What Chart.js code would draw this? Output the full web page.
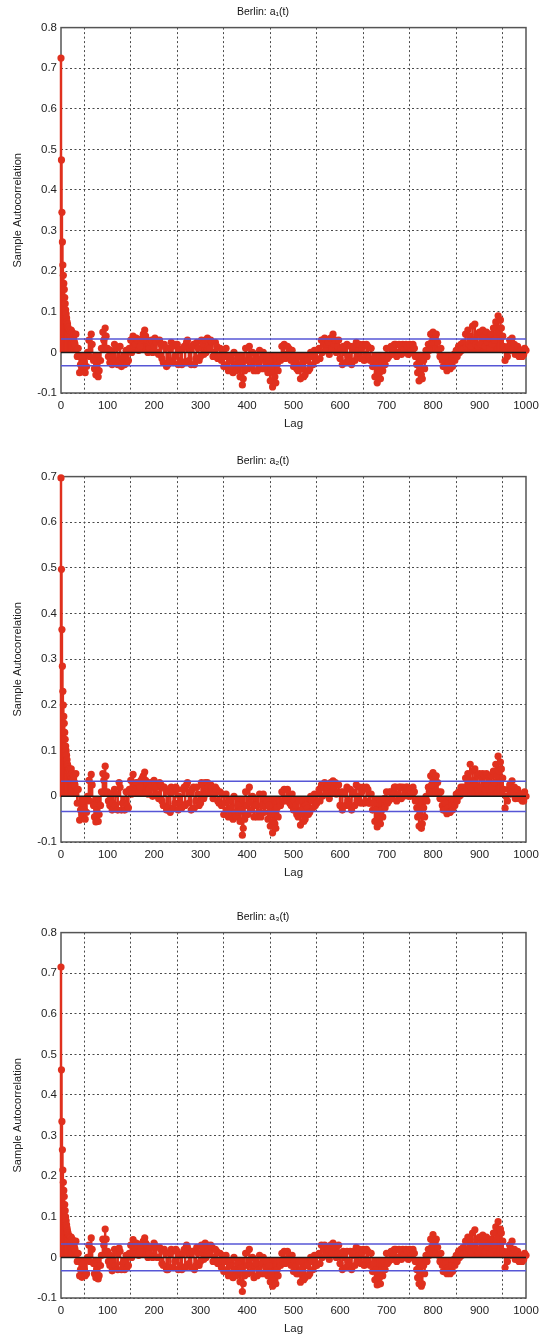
<!DOCTYPE html>
<html>
<head>
<meta charset="utf-8">
<title>Berlin sample autocorrelation</title>
<script src="https://cdn.jsdelivr.net/npm/chart.js@4.4.1/dist/chart.umd.min.js"></script>
<style>
  body { margin: 0; background: #fff; }
  .panel { position: absolute; left: 0; width: 546px; height: 435px; }
</style>
</head>
<body>
<div class="panel" style="top:0px"><canvas id="acf-a1"></canvas></div>
<div class="panel" style="top:449px"><canvas id="acf-a2"></canvas></div>
<div class="panel" style="top:905px"><canvas id="acf-a3"></canvas></div>
<script>
// lags: every lag up to 29, then lags 30,35,.. and 32,37,..
const headLags = Array.from({ length: 30 }, (_, i) => i);
const tailLags = [];
for (let lag = 30; lag <= 1000; lag += 5) tailLags.push(lag);
const midLags = [];
for (let lag = 32; lag <= 997; lag += 5) midLags.push(lag);

// a1(t)
const a1Head = [0.725, 0.474, 0.345, 0.272, 0.215, 0.19, 0.17, 0.155, 0.135, 0.12,
  0.105, 0.095, 0.085, 0.075, 0.07, 0.062, 0.058, 0.05, 0.055, 0.045,
  0.05, 0.04, 0.055, 0.045, 0.05, 0.035, 0.04, 0.03, 0.045, 0.025];
const a1Tail = [
  0.02, -0.01, -0.05, -0.04, -0.025, -0.035, 0.03, 0.045, -0.02, -0.055,
  -0.06, -0.02, 0.05, 0.06, 0.01, -0.025, -0.03, 0.02, 0.01, -0.02,
  -0.035, -0.01, 0.005, -0.02, 0.03, 0.04, 0.02, 0.03, 0.015, 0.035,
  0.055, 0.03, 0.01, 0.03, 0.015, 0.025, -0.005, 0.02, -0.025, 0.01,
  -0.03, -0.02, 0.015, -0.01, 0.02, 0.005, -0.03, 0.015, 0.025, -0.02,
  -0.03, 0.02, -0.015, 0.01, -0.01, 0.02, 0.03, 0.035, 0.01, 0.025,
  0.0, 0.015, -0.01, -0.02, -0.035, 0.01, -0.045, -0.02, -0.05, -0.03,
  -0.015, -0.06, -0.08, -0.045, -0.02, 0.015, -0.035, -0.045, -0.015, -0.03,
  -0.04, 0.0, -0.025, -0.05, -0.07, -0.085, -0.06, -0.03, -0.01, 0.015,
  0.02, -0.005, 0.01, -0.02, -0.035, -0.02, -0.045, -0.065, -0.04, -0.055,
  -0.02, -0.04, -0.01, 0.005, -0.02, 0.01, 0.03, 0.02, 0.005, 0.025,
  0.035, 0.045, 0.03, 0.015, -0.015, -0.03, 0.0, 0.02, -0.02, -0.03,
  0.015, 0.025, 0.005, -0.015, 0.02, -0.005, 0.015, -0.02, -0.035, -0.06,
  -0.075, -0.05, -0.03, -0.01, 0.01, -0.01, 0.015, 0.005, 0.02, 0.0,
  0.015, 0.02, 0.01, 0.015, 0.02, 0.005, 0.01, -0.03, -0.07, -0.055,
  -0.02, 0.005, 0.02, 0.045, 0.05, 0.035, 0.025, -0.01, -0.02, -0.035,
  -0.045, -0.03, -0.02, -0.005, 0.005, 0.015, 0.02, 0.025, 0.045, 0.055,
  0.04, 0.065, 0.07, 0.045, 0.05, 0.035, 0.04, 0.05, 0.035, 0.045,
  0.06, 0.075, 0.09, 0.08, 0.04, -0.02, -0.01, 0.03, 0.035, 0.02,
  0.01, -0.01, 0.005, -0.005, 0.005];
const a1Mid = [
  0.045, 0.01, -0.03, -0.01, -0.05, 0.0, -0.01, 0.02, -0.04, -0.03,
  -0.045, 0.01, 0.03, 0.04, -0.01, 0.005, -0.01, -0.02, -0.03, 0.015,
  -0.015, -0.03, -0.025, 0.01, 0.0, 0.015, 0.035, 0.005, 0.03, 0.045,
  0.04, 0.0, 0.025, 0.0, 0.035, 0.0, 0.03, -0.015, 0.02, -0.035,
  0.01, 0.025, -0.025, 0.02, -0.03, -0.02, 0.01, -0.025, 0.03, 0.01,
  0.015, -0.03, 0.025, -0.02, 0.03, -0.005, 0.0, 0.015, 0.03, -0.01,
  0.025, -0.015, 0.01, 0.005, -0.01, -0.03, -0.01, -0.04, 0.0, -0.045,
  -0.035, -0.025, -0.065, 0.01, -0.04, -0.02, 0.0, -0.02, -0.045, 0.005,
  -0.015, -0.04, -0.01, -0.02, -0.04, -0.05, -0.075, -0.045, -0.02, -0.01,
  -0.015, 0.015, -0.015, 0.005, -0.01, -0.04, -0.01, -0.03, -0.06, -0.02,
  -0.045, 0.0, -0.03, -0.02, 0.005, -0.015, 0.0, 0.035, 0.02, -0.005,
  0.01, 0.02, 0.0, 0.03, 0.01, 0.015, -0.025, -0.01, 0.015, 0.005,
  -0.02, -0.01, 0.02, 0.01, -0.02, 0.02, -0.015, 0.01, -0.015, -0.03,
  -0.04, -0.065, -0.045, -0.03, -0.015, 0.01, -0.005, 0.02, -0.01, 0.02,
  -0.005, 0.0, 0.02, -0.005, 0.0, 0.02, -0.01, -0.05, -0.04, -0.065,
  -0.04, -0.01, 0.005, 0.025, 0.03, 0.045, 0.005, 0.01, -0.035, -0.015,
  -0.025, -0.04, -0.035, -0.02, -0.01, 0.0, 0.005, 0.01, 0.015, 0.02,
  0.015, 0.03, 0.02, 0.015, 0.02, 0.055, 0.015, 0.025, 0.01, 0.02,
  0.03, 0.045, 0.05, 0.06, 0.015, 0.005, 0.015, 0.005, 0.01, -0.005,
  0.015, 0.005, -0.01, 0.01];

// a2(t)
const a2Head = [0.697, 0.497, 0.365, 0.285, 0.23, 0.2, 0.175, 0.16, 0.14, 0.125,
  0.11, 0.1, 0.09, 0.08, 0.07, 0.065, 0.06, 0.055, 0.06, 0.05,
  0.055, 0.045, 0.06, 0.05, 0.05, 0.04, 0.045, 0.035, 0.045, 0.03];
const a2Tail = [
  0.025, -0.015, -0.052, -0.04, -0.03, -0.035, 0.035, 0.048, -0.02, -0.056,
  -0.055, -0.02, 0.05, 0.066, 0.01, -0.02, -0.03, 0.015, 0.005, 0.03,
  -0.03, -0.015, 0.01, -0.025, 0.035, 0.048, 0.025, 0.03, 0.02, 0.04,
  0.053, 0.03, 0.015, 0.025, 0.035, 0.02, -0.005, 0.025, -0.02, 0.015,
  -0.025, -0.035, 0.01, -0.015, 0.015, 0.0, -0.025, 0.02, 0.025, -0.015,
  -0.03, 0.02, -0.01, 0.005, -0.015, 0.025, 0.03, 0.03, 0.01, 0.02,
  0.005, 0.015, -0.015, -0.02, -0.04, 0.005, -0.045, -0.025, -0.05, -0.035,
  -0.02, -0.055, -0.085, -0.05, -0.02, 0.02, -0.03, -0.045, -0.02, -0.035,
  -0.045, 0.005, -0.02, -0.05, -0.065, -0.08, -0.06, -0.025, -0.01, 0.01,
  0.015, -0.005, 0.005, -0.02, -0.03, -0.02, -0.045, -0.063, -0.04, -0.05,
  -0.025, -0.035, -0.01, 0.005, -0.015, 0.015, 0.025, 0.02, 0.005, 0.025,
  0.03, 0.034, 0.03, 0.01, -0.02, -0.03, 0.005, 0.02, -0.02, -0.03,
  0.01, 0.025, 0.0, -0.015, 0.02, -0.01, 0.015, -0.015, -0.03, -0.055,
  -0.067, -0.05, -0.03, -0.005, 0.01, -0.01, 0.01, 0.005, 0.02, 0.005,
  0.02, 0.02, 0.015, 0.02, 0.015, 0.005, 0.01, -0.025, -0.065, -0.07,
  -0.025, 0.0, 0.02, 0.045, 0.052, 0.04, 0.03, -0.005, -0.02, -0.03,
  -0.038, -0.035, -0.02, -0.01, 0.005, 0.01, 0.02, 0.02, 0.04, 0.05,
  0.07, 0.055, 0.06, 0.045, 0.05, 0.04, 0.045, 0.05, 0.04, 0.045,
  0.055, 0.07, 0.088, 0.075, 0.04, -0.026, -0.01, 0.025, 0.034, 0.02,
  0.01, -0.005, 0.005, -0.01, 0.0];
const a2Mid = [
  0.05, 0.015, -0.03, -0.01, -0.05, 0.0, -0.01, 0.025, -0.045, -0.03,
  -0.04, 0.01, 0.035, 0.045, -0.01, 0.005, -0.015, -0.02, -0.03, 0.02,
  -0.015, -0.03, -0.02, 0.015, 0.005, 0.02, 0.03, 0.01, 0.035, 0.045,
  0.035, 0.005, 0.03, 0.0, 0.03, 0.005, 0.03, -0.01, 0.02, -0.03,
  0.01, 0.02, -0.025, 0.02, -0.03, -0.015, 0.015, -0.02, 0.03, 0.01,
  0.015, -0.025, 0.02, -0.02, 0.03, -0.005, 0.005, 0.02, 0.025, -0.005,
  0.02, -0.01, 0.01, 0.005, -0.015, -0.03, -0.01, -0.04, 0.0, -0.045,
  -0.035, -0.03, -0.07, 0.01, -0.04, -0.015, 0.0, -0.02, -0.045, 0.005,
  -0.02, -0.035, -0.01, -0.02, -0.04, -0.055, -0.07, -0.045, -0.02, -0.01,
  -0.01, 0.015, -0.015, 0.005, -0.01, -0.04, -0.01, -0.03, -0.055, -0.02,
  -0.04, 0.0, -0.025, -0.02, 0.005, -0.01, 0.0, 0.03, 0.02, -0.005,
  0.01, 0.02, 0.005, 0.025, 0.01, 0.01, -0.02, -0.01, 0.015, 0.005,
  -0.02, -0.01, 0.02, 0.01, -0.015, 0.02, -0.015, 0.005, -0.015, -0.03,
  -0.04, -0.06, -0.045, -0.025, -0.015, 0.01, -0.005, 0.02, -0.01, 0.02,
  -0.005, 0.0, 0.02, 0.0, 0.0, 0.02, -0.01, -0.045, -0.04, -0.06,
  -0.045, -0.01, 0.01, 0.025, 0.035, 0.045, 0.01, 0.01, -0.03, -0.015,
  -0.025, -0.035, -0.03, -0.02, -0.01, 0.0, 0.005, 0.01, 0.015, 0.025,
  0.02, 0.035, 0.025, 0.015, 0.02, 0.05, 0.015, 0.025, 0.015, 0.02,
  0.03, 0.045, 0.055, 0.06, 0.015, 0.0, 0.015, 0.005, 0.01, -0.005,
  0.015, 0.005, -0.01, 0.01];

// a3(t)
const a3Head = [0.715, 0.462, 0.335, 0.265, 0.215, 0.185, 0.165, 0.15, 0.13, 0.115,
  0.1, 0.09, 0.08, 0.072, 0.065, 0.06, 0.055, 0.05, 0.052, 0.045,
  0.05, 0.04, 0.05, 0.042, 0.045, 0.035, 0.04, 0.03, 0.04, 0.025];
const a3Tail = [
  0.02, -0.01, -0.045, -0.049, -0.03, -0.04, 0.03, 0.048, -0.015, -0.05,
  -0.053, -0.02, 0.045, 0.07, 0.015, -0.02, -0.033, 0.02, 0.01, 0.023,
  -0.03, -0.01, 0.005, -0.02, 0.03, 0.044, 0.025, 0.03, 0.015, 0.035,
  0.048, 0.03, 0.01, 0.025, 0.035, 0.025, 0.0, 0.02, -0.02, 0.01,
  -0.03, -0.025, 0.015, -0.01, 0.015, 0.005, -0.03, 0.02, 0.03, -0.015,
  -0.025, 0.015, -0.02, 0.01, -0.01, 0.02, 0.035, 0.03, 0.01, 0.025,
  0.0, 0.015, -0.01, -0.025, -0.035, 0.005, -0.045, -0.02, -0.05, -0.03,
  -0.015, -0.06, -0.084, -0.045, -0.02, 0.02, -0.035, -0.05, -0.015, -0.03,
  -0.04, 0.0, -0.025, -0.045, -0.06, -0.071, -0.055, -0.03, -0.01, 0.01,
  0.015, -0.005, 0.005, -0.02, -0.035, -0.02, -0.04, -0.061, -0.04, -0.05,
  -0.02, -0.04, -0.01, 0.005, -0.02, 0.01, 0.03, 0.02, 0.005, 0.02,
  0.03, 0.035, 0.025, 0.01, -0.015, -0.03, 0.0, 0.015, -0.02, -0.03,
  0.015, 0.025, 0.005, -0.015, 0.02, -0.005, 0.015, -0.02, -0.035, -0.055,
  -0.068, -0.05, -0.03, -0.01, 0.01, -0.01, 0.015, 0.005, 0.02, 0.0,
  0.015, 0.02, 0.01, 0.015, 0.02, 0.005, 0.01, -0.03, -0.065, -0.071,
  -0.02, 0.005, 0.02, 0.045, 0.056, 0.04, 0.025, -0.01, -0.02, -0.035,
  -0.04, -0.03, -0.02, -0.005, 0.005, 0.015, 0.02, 0.025, 0.04, 0.05,
  0.045, 0.06, 0.068, 0.045, 0.05, 0.035, 0.04, 0.05, 0.035, 0.045,
  0.06, 0.075, 0.088, 0.07, 0.04, -0.025, -0.01, 0.03, 0.04, 0.02,
  0.01, -0.01, 0.005, -0.005, 0.005];
const a3Mid = [
  0.04, 0.01, -0.03, -0.015, -0.045, 0.0, -0.01, 0.02, -0.04, -0.03,
  -0.045, 0.005, 0.03, 0.045, -0.01, 0.005, -0.01, -0.02, -0.03, 0.015,
  -0.015, -0.03, -0.025, 0.01, 0.0, 0.015, 0.035, 0.005, 0.03, 0.04,
  0.035, 0.0, 0.025, 0.0, 0.03, 0.0, 0.025, -0.015, 0.02, -0.03,
  0.01, 0.02, -0.025, 0.02, -0.03, -0.02, 0.01, -0.025, 0.025, 0.01,
  0.015, -0.03, 0.025, -0.02, 0.03, -0.005, 0.0, 0.015, 0.03, -0.01,
  0.02, -0.015, 0.01, 0.005, -0.01, -0.03, -0.01, -0.04, 0.0, -0.045,
  -0.035, -0.025, -0.065, 0.01, -0.04, -0.02, 0.0, -0.02, -0.045, 0.005,
  -0.015, -0.04, -0.01, -0.02, -0.04, -0.05, -0.065, -0.045, -0.02, -0.01,
  -0.015, 0.015, -0.015, 0.005, -0.01, -0.04, -0.01, -0.03, -0.055, -0.02,
  -0.045, 0.0, -0.03, -0.02, 0.005, -0.015, 0.0, 0.03, 0.02, -0.005,
  0.01, 0.02, 0.0, 0.03, 0.01, 0.015, -0.025, -0.01, 0.015, 0.005,
  -0.02, -0.01, 0.02, 0.01, -0.02, 0.02, -0.015, 0.01, -0.015, -0.03,
  -0.04, -0.065, -0.045, -0.03, -0.015, 0.01, -0.005, 0.02, -0.01, 0.02,
  -0.005, 0.0, 0.02, -0.005, 0.0, 0.02, -0.01, -0.05, -0.04, -0.065,
  -0.04, -0.01, 0.005, 0.025, 0.03, 0.045, 0.005, 0.01, -0.035, -0.015,
  -0.025, -0.04, -0.035, -0.02, -0.01, 0.0, 0.005, 0.01, 0.015, 0.02,
  0.015, 0.03, 0.02, 0.015, 0.02, 0.055, 0.015, 0.025, 0.01, 0.02,
  0.03, 0.045, 0.05, 0.06, 0.015, 0.005, 0.015, 0.005, 0.01, -0.005,
  0.015, 0.005, -0.01, 0.01];

const titles = ["Berlin: a\u2081(t)", "Berlin: a\u2082(t)", "Berlin: a\u2083(t)"];
const yMaxes = [0.8, 0.7, 0.8];
const confBound = 0.033;
const lineEnds = [0, 1000];

const RED = "#e0301e";
const FONT = "'Liberation Sans', Arial, sans-serif";

// MATLAB-style closed box around the axes
const axesBox = {
  id: "axesBox",
  beforeDatasetsDraw(chart) {
    const { ctx, chartArea: a } = chart;
    ctx.save();
    ctx.strokeStyle = "#555";
    ctx.lineWidth = 1.5;
    ctx.strokeRect(a.left, a.top, a.right - a.left, a.bottom - a.top);
    ctx.restore();
  },
};

const toPoints = (lags, vals) => lags.map((lag, i) => ({ x: lag, y: vals[i] }));
const flatLine = (y) => lineEnds.map((x) => ({ x: x, y: y }));

const makeChart = (id, title, head, tail, mid, yMax) => {
  const canvas = document.getElementById(id);
  const pts = toPoints(headLags, head)
    .concat(toPoints(tailLags, tail), toPoints(midLags, mid))
    .sort((p, q) => p.x - q.x);

  return new Chart(canvas, {
    type: "bar",
    data: {
      datasets: [
        { type: "line", data: flatLine(confBound), borderColor: "#5656d6", borderWidth: 1.5, pointRadius: 0, order: 0 },
        { type: "line", data: flatLine(-confBound), borderColor: "#5656d6", borderWidth: 1.5, pointRadius: 0, order: 0 },
        { type: "line", data: flatLine(0), borderColor: "#1a1a1a", borderWidth: 1.5, pointRadius: 0, order: 1 },
        { type: "scatter", data: pts, backgroundColor: RED, borderWidth: 0, pointRadius: 3.6, clip: false, order: 2 },
        // stems
        { data: pts, backgroundColor: RED, barThickness: 1.8, clip: false, order: 3 },
      ],
    },
    options: {
      responsive: true,
      maintainAspectRatio: false,
      animation: false,
      events: [],
      layout: { padding: { left: 0, right: 20, top: 0, bottom: 0 } },
      plugins: {
        legend: { display: false },
        tooltip: { enabled: false },
        title: {
          display: true,
          text: title,
          color: "#111",
          font: { family: FONT, size: 10.5, weight: "normal" },
          padding: { top: 6, bottom: 9 },
        },
      },
      scales: {
        x: {
          type: "linear",
          offset: false,
          min: 0,
          max: 1000,
          afterFit: (s) => { s.height = 42; },
          ticks: {
            stepSize: 100,
            padding: 6,
            color: "#222",
            font: { family: FONT, size: 11.5 },
            maxRotation: 0,
            callback: (v) => String(v),
          },
          grid: { color: "#4a4a4a", lineWidth: 1, drawTicks: false },
          border: { display: false, dash: [2, 2.5] },
          title: { display: true, text: "Lag", color: "#222", font: { family: FONT, size: 11.5 }, padding: { top: 0, bottom: 4 } },
        },
        y: {
          min: -0.1,
          max: yMax,
          afterFit: (s) => { s.width = 61; },
          ticks: {
            stepSize: 0.1,
            padding: 4,
            color: "#222",
            font: { family: FONT, size: 11.5 },
            callback: (v) => String(Math.round(v * 10) / 10),
          },
          grid: { color: "#4a4a4a", lineWidth: 1, drawTicks: false },
          border: { display: false, dash: [2, 2.5] },
          title: { display: true, text: "Sample Autocorrelation", color: "#222", font: { family: FONT, size: 11 }, padding: { top: 11, bottom: 0 } },
        },
      },
    },
    plugins: [axesBox],
  });
};

makeChart("acf-a1", titles[0], a1Head, a1Tail, a1Mid, yMaxes[0]);
makeChart("acf-a2", titles[1], a2Head, a2Tail, a2Mid, yMaxes[1]);
makeChart("acf-a3", titles[2], a3Head, a3Tail, a3Mid, yMaxes[2]);
</script>
</body>
</html>
